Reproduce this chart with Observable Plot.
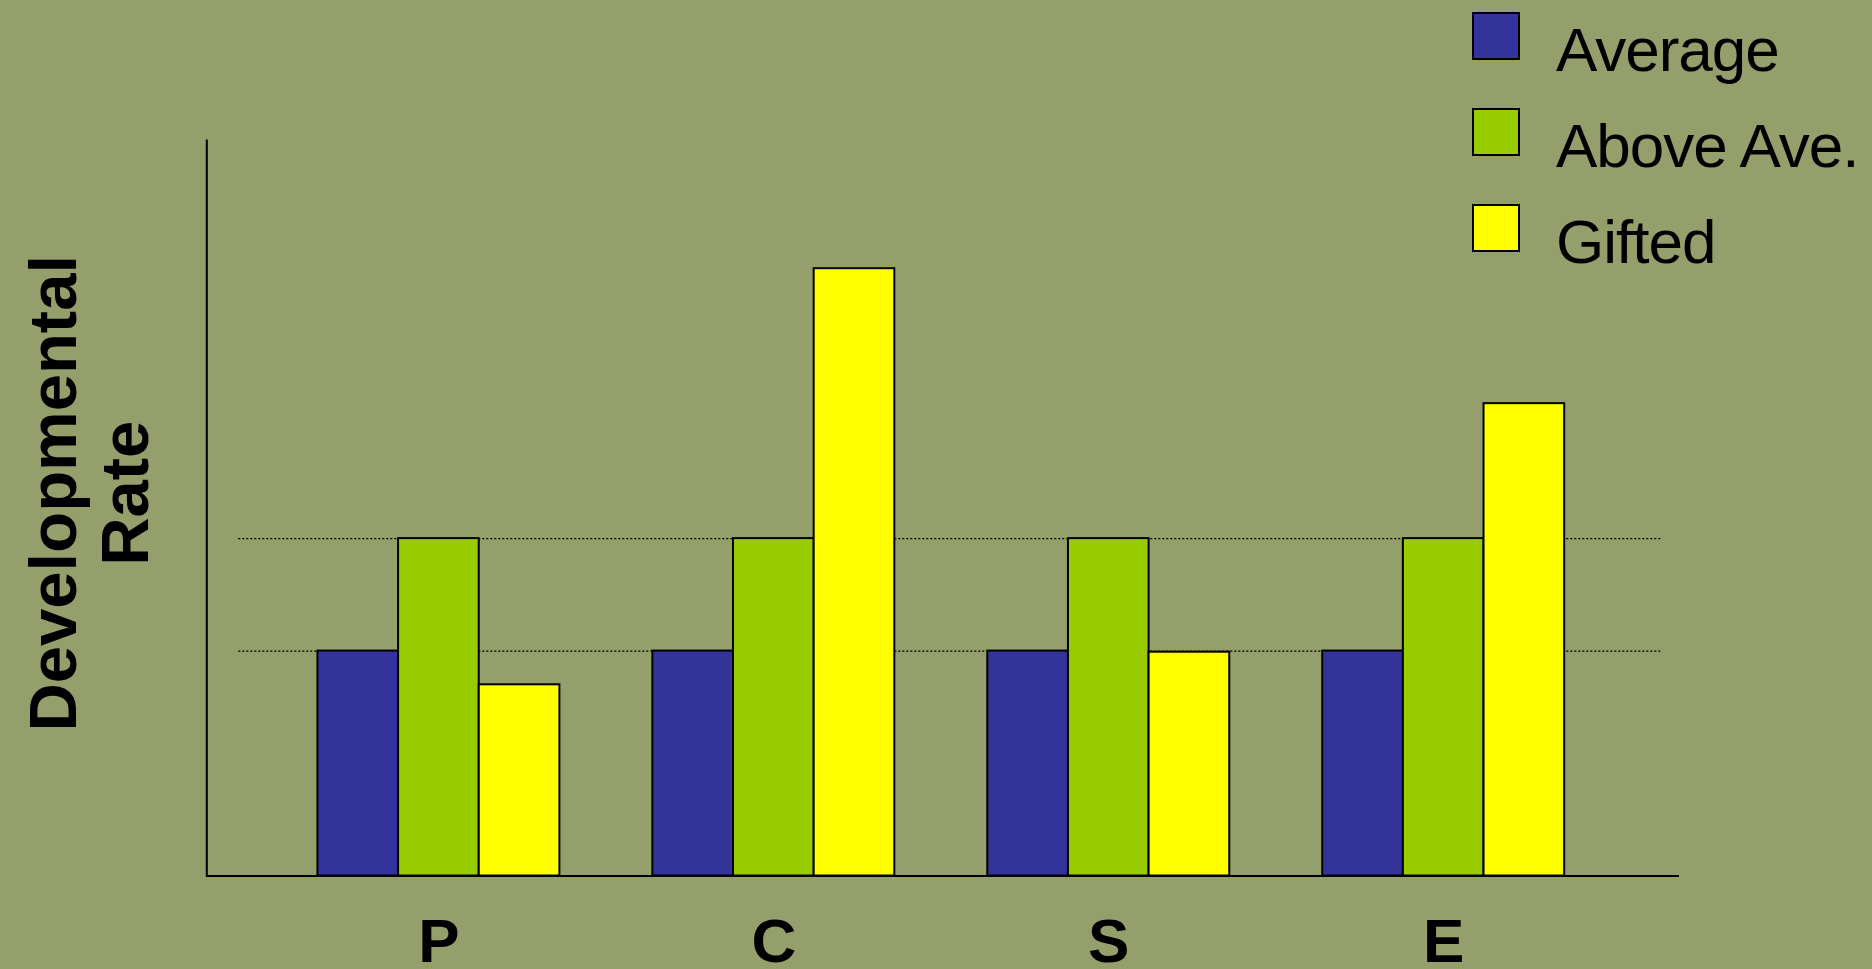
<!DOCTYPE html>
<html>
<head>
<meta charset="utf-8">
<script src="https://cdn.jsdelivr.net/npm/d3@7"></script>
<script src="https://cdn.jsdelivr.net/npm/@observablehq/plot@0.6"></script>
<style>
  html, body { margin: 0; padding: 0; width: 1872px; height: 969px; overflow: hidden; background: #949f6b; }
  #chart { position: absolute; left: 0; top: 0; }
  #legend { position: absolute; left: 1473px; top: -12px; width: 399px; }
  #legend .lg-swatch { height: 96px !important; padding: 0 !important; margin: 0 !important; display: flex !important; align-items: center !important; }
  #legend .lg-swatch > svg { margin-right: 37px !important; overflow: visible !important; }
  #legend .lg-swatch > svg rect { stroke: #000; stroke-width: 2px; }
  #legend .lg-swatch-label, #legend .lg-swatch span { font-family: "Liberation Sans", Arial, sans-serif !important; font-size: 62px !important; letter-spacing: -1px; color: #000; position: relative; top: 13px; overflow: visible !important; }
  #legend > div, #legend .lg-swatches { font-family: "Liberation Sans", Arial, sans-serif !important; font-size: 62px !important; margin: 0 !important; }
</style>
</head>
<body>
<div id="chart"></div>
<div id="legend"></div>
<script>
// ---- data ----
const categories = ["P", "C", "S", "E"];
const series = ["Average", "Above Ave.", "Gifted"];
const average = [2, 2, 2, 2];
const aboveAve = [3, 3, 3, 3];
const gifted = [1.7, 5.4, 1.99, 4.2];
const seriesColors = ["#333399", "#99cc00", "#ffff00"];
const gridLevels = [2, 3];
const yTop = 6.54;
const yLabel = "Developmental\nRate";

// ---- table built from the arrays ----
const values = [average, aboveAve, gifted];
const rows = [];
categories.forEach((c, i) => {
  series.forEach((s, j) => {
    rows.push({cat: c, ci: i, series: s, sj: j, value: values[j][i]});
  });
});

const barW = 0.2408;   // bar width in group-step units
const font = "Liberation Sans, Arial, sans-serif";

const chart = Plot.plot({
  width: 1872,
  height: 969,
  marginLeft: 206.3,
  marginRight: 193,
  marginTop: 140,
  marginBottom: 93.5,
  style: {background: "transparent", fontFamily: font, color: "#000", overflow: "visible"},
  x: {type: "linear", domain: [-0.693, 3.704], axis: null},
  y: {domain: [0, yTop], axis: null},
  color: {domain: series, range: seriesColors},
  marks: [
    Plot.ruleY(gridLevels, {stroke: "#000", strokeWidth: 1.3, strokeDasharray: "2,2", insetLeft: 32, insetRight: 17}),
    Plot.rectY(rows, {
      x1: d => d.ci + (d.sj - 1) * barW - barW / 2,
      x2: d => d.ci + (d.sj - 1) * barW + barW / 2,
      y1: 0,
      y2: "value",
      fill: "series",
      stroke: "#000",
      strokeWidth: 2
    }),
    Plot.ruleY([0], {stroke: "#000", strokeWidth: 2}),
    Plot.frame({anchor: "left", stroke: "#000", strokeWidth: 2}),
    Plot.axisX({
      ticks: categories.map((c, i) => i),
      tickFormat: i => categories[i],
      tickSize: 0,
      tickPadding: 42,
      fontSize: 62,
      fontWeight: "bold",
      fontFamily: font,
      fill: "#000",
      label: null
    }),
    Plot.text([yLabel], {
      text: d => d,
      frameAnchor: "left",
      rotate: -90,
      textAnchor: "middle",
      lineAnchor: "middle",
      lineHeight: 1.075,
      fontSize: 67,
      fontWeight: "bold",
      fontFamily: font,
      fill: "#000",
      dx: -118.3,
      dy: -15
    })
  ]
});
document.getElementById("chart").appendChild(chart);

const legend = Plot.legend({
  color: {domain: series, range: seriesColors},
  legend: "swatches",
  columns: 1,
  swatchSize: 46,
  className: "lg"
});
document.getElementById("legend").appendChild(legend);
</script>
</body>
</html>
